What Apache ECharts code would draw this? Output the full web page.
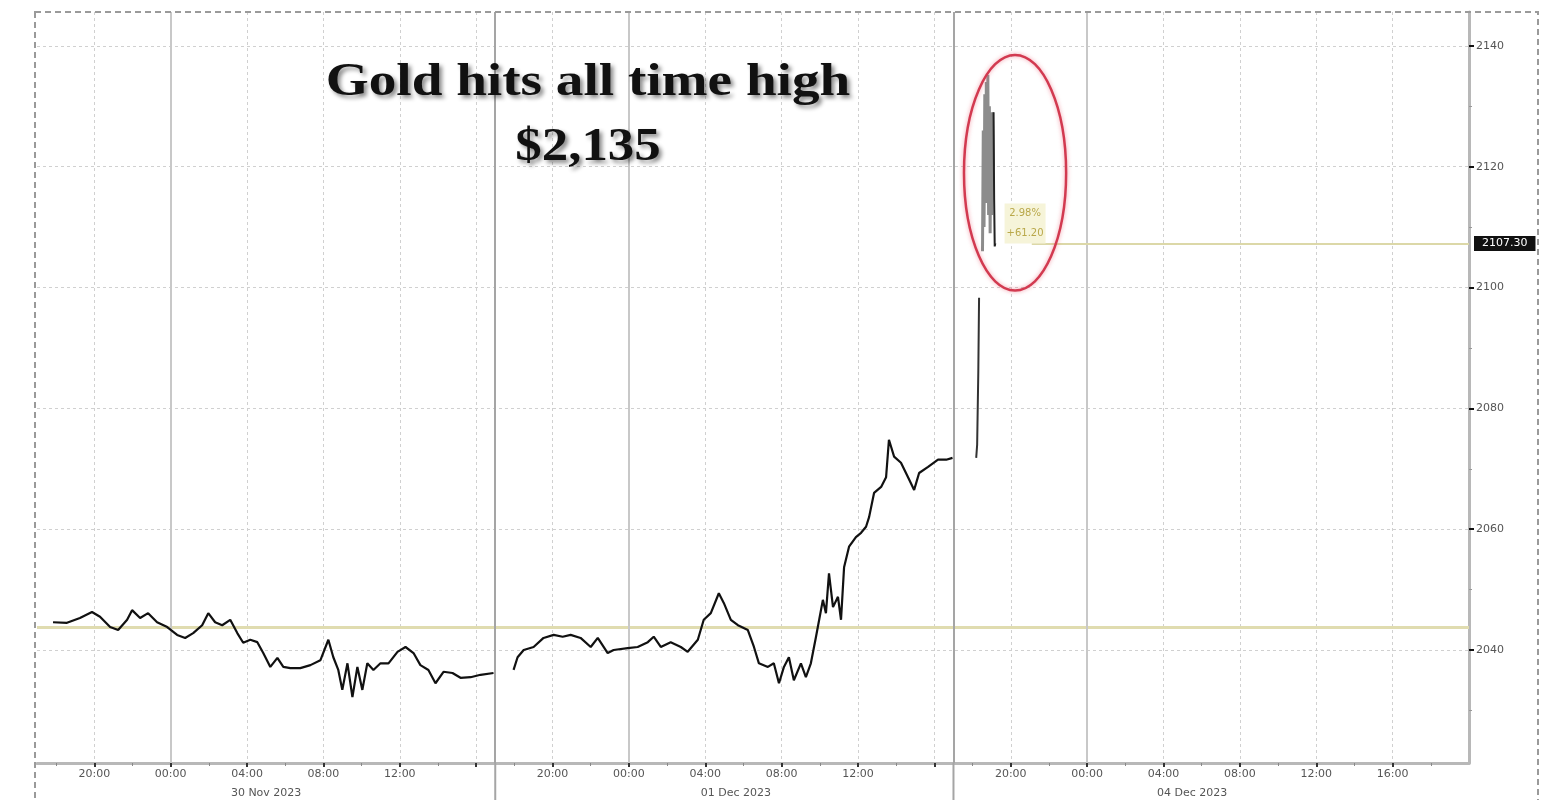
<!DOCTYPE html>
<html><head><meta charset="utf-8">
<script src="https://cdn.jsdelivr.net/npm/echarts@6/dist/echarts.min.js"></script>
<style>html,body{margin:0;padding:0;background:#fff}#c{width:1546px;height:800px}</style>
</head><body><div id="c"></div>
<script>
// ---- data (hours since 29 Nov 2023 17:00 trading-session time, gold spot USD) ----
const seg1Hours = [0.84,1.57,2.25,2.88,3.30,3.83,4.25,4.72,4.98,5.40,5.82,6.29,6.82,7.34,7.76,8.18,8.65,8.97,9.33,9.70,10.12,10.49,10.80,11.17,11.54,11.85,12.22,12.59,12.90,13.27,13.79,14.32,14.84,15.26,15.52,15.78,15.99,16.26,16.52,16.78,17.04,17.30,17.62,17.99,18.41,18.88,19.30,19.72,20.08,20.50,20.87,21.29,21.76,22.18,22.71,23.23,23.91];
const seg1Prices = [2044.6,2044.5,2045.3,2046.3,2045.5,2043.8,2043.3,2045.0,2046.6,2045.3,2046.1,2044.6,2043.8,2042.5,2042.0,2042.8,2044.1,2046.1,2044.6,2044.1,2045.0,2042.8,2041.2,2041.7,2041.3,2039.5,2037.2,2038.7,2037.2,2037.0,2037.0,2037.5,2038.3,2041.7,2038.8,2036.7,2033.4,2037.8,2032.2,2037.2,2033.4,2037.8,2036.7,2037.8,2037.8,2039.7,2040.5,2039.5,2037.5,2036.7,2034.5,2036.4,2036.2,2035.4,2035.5,2035.9,2036.2];
const seg2Hours = [24.96,25.17,25.49,26.01,26.53,27.06,27.53,27.95,28.47,29.00,29.37,29.89,30.20,30.94,31.46,31.99,32.30,32.67,33.19,33.72,34.08,34.61,34.92,35.29,35.71,35.97,36.34,36.71,37.23,37.55,37.81,38.28,38.59,38.86,39.12,39.38,39.64,40.01,40.27,40.53,40.80,41.16,41.32,41.48,41.69,41.95,42.11,42.27,42.53,42.89,43.16,43.42,43.58,43.84,44.21,44.47,44.62,44.89,45.25,45.62,45.94,46.20,46.67,47.19,47.62,47.95];
const seg2Prices = [2036.7,2038.8,2040.0,2040.5,2042.0,2042.5,2042.2,2042.5,2042.0,2040.5,2042.0,2039.5,2040.0,2040.3,2040.5,2041.3,2042.2,2040.5,2041.3,2040.5,2039.7,2041.7,2045.0,2046.1,2049.4,2047.8,2045.0,2044.1,2043.3,2040.5,2037.8,2037.2,2037.8,2034.5,2037.2,2038.8,2035.0,2037.8,2035.5,2037.8,2042.2,2048.3,2046.1,2052.7,2047.1,2048.8,2045.0,2053.7,2057.1,2058.7,2059.4,2060.4,2062.0,2066.0,2067.0,2068.6,2074.8,2072.0,2071.0,2068.6,2066.5,2069.3,2070.3,2071.5,2071.5,2071.8];
const spikeHours = [49.19,49.24,49.30,49.34];
const spikePrices = [2071.8,2074.0,2086.0,2098.3];
const peakHours = [49.52,49.56,49.60,49.64,49.68,49.72,49.76,49.80,49.84,49.88,49.92,49.96,50.00,50.04,50.08];
const peakPrices = [2106.0,2126.0,2110.0,2132.0,2114.0,2134.0,2118.0,2135.2,2112.0,2130.0,2109.0,2127.0,2112.0,2129.0,2120.0];
const closeHours = [50.10,50.13,50.16,50.19];
const closePrices = [2129.0,2114.5,2106.8,2107.3];

// ---- axes ----
const tickHours  = [3,7,11,15,19,23,27,31,35,39,43,47,51,55,59,63,67,71];
const tickLabels = ['20:00','00:00','04:00','08:00','12:00','','20:00','00:00','04:00','08:00','12:00','','20:00','00:00','04:00','08:00','12:00','16:00'];
const minorHours = [1,5,9,13,17,21,25,29,33,37,41,45,49,53,57,61,65,69,73];
const dateHours  = [12,36.6,60.5];
const dateLabels = ['30 Nov 2023','01 Dec 2023','04 Dec 2023'];
const yTicks = [2040,2060,2080,2100,2120,2140];
const yMinor = [2030,2050,2070,2090,2110,2130];
const dayHours = [7,31,55];
const sessionHours = [24,48];
const prevClose = 2043.8;
const lastPrice = 2107.3;
const lastLabel = '2107.30';
const changeText = ['2.98%','+61.20'];
const titleLines = ['Gold hits all time high','$2,135'];

const pairs = (h, p) => h.map((x, i) => [x, p[i]]);
const labelHours = tickHours.filter((h, i) => tickLabels[i] !== '');

const chart = echarts.init(document.getElementById('c'));
const lineBase = { type: 'line', showSymbol: false, symbol: 'none', silent: true, animation: false, xAxisIndex: 0, yAxisIndex: 0 };

const option = {
  backgroundColor: '#fff',
  animation: false,
  grid: { left: 37, right: 77, top: 12, bottom: 37 },
  xAxis: [
    { type: 'value', min: 0, max: 75, position: 'bottom',
      axisLine: { show: true, onZero: false, lineStyle: { color: '#b8b8b8', width: 3 } },
      axisTick: { show: true, customValues: tickHours, length: 4, inside: false, lineStyle: { color: '#333', width: 2 } },
      axisLabel: { customValues: labelHours, fontSize: 11, color: '#555', margin: 6, fontFamily: 'DejaVu Sans',
        formatter: v => tickLabels[tickHours.indexOf(Math.round(v))] },
      splitLine: { show: true, lineStyle: { color: '#d0d0d0', type: [3, 3], width: 1 } } },
    { type: 'value', min: 0, max: 75, position: 'bottom', offset: 19,
      axisLine: { show: false, onZero: false }, axisTick: { show: false }, splitLine: { show: false },
      axisLabel: { customValues: dateHours, fontSize: 11, color: '#555', margin: 6, fontFamily: 'DejaVu Sans',
        formatter: v => { let best = 0; dateHours.forEach((d, i) => { if (Math.abs(d - v) < Math.abs(dateHours[best] - v)) best = i; }); return dateLabels[best]; } } },
    { type: 'value', min: 0, max: 75, position: 'bottom',
      axisLine: { show: false, onZero: false }, splitLine: { show: false }, axisLabel: { show: false },
      axisTick: { show: true, customValues: minorHours, length: 3, lineStyle: { color: '#888', width: 1 } } }
  ],
  yAxis: [
    { type: 'value', min: 2021.3, max: 2145.6, position: 'right',
      axisLine: { show: true, onZero: false, lineStyle: { color: '#b8b8b8', width: 3 } },
      axisTick: { show: true, customValues: yTicks, length: 5, lineStyle: { color: '#111', width: 2 } },
      axisLabel: { customValues: yTicks, fontSize: 11, color: '#555', margin: 7, fontFamily: 'DejaVu Sans', formatter: v => String(v) },
      splitLine: { show: true, lineStyle: { color: '#d0d0d0', type: [3, 3], width: 1 } } },
    { type: 'value', min: 2021.3, max: 2145.6, position: 'right',
      axisLine: { show: false, onZero: false }, splitLine: { show: false }, axisLabel: { show: false },
      axisTick: { show: true, customValues: yMinor, length: 3, lineStyle: { color: '#999', width: 1 } } }
  ],
  series: [
    Object.assign({}, lineBase, { name: 'seg1', data: pairs(seg1Hours, seg1Prices), lineStyle: { color: '#111', width: 2.2 }, z: 5,
      markLine: { silent: true, symbol: 'none', animation: false, label: { show: false },
        data: [
          { yAxis: prevClose, lineStyle: { color: '#e0dcb0', width: 3, type: 'solid' } },
          ...dayHours.map(h => ({ xAxis: h, lineStyle: { color: '#c8c8c8', width: 2, type: 'solid' } })),
          ...sessionHours.map(h => ({ xAxis: h, lineStyle: { color: '#a5a5a5', width: 2, type: 'solid' } })),
          [ { coord: [52.1, lastPrice], lineStyle: { color: '#dcd8a8', width: 2, type: 'solid' } },
            { coord: [75, lastPrice], label: { show: true, position: 'end', formatter: lastLabel, distance: 5,
                backgroundColor: '#111', color: '#fff', fontSize: 11, padding: [2, 8], fontFamily: 'DejaVu Sans' } } ]
        ] } }),
    Object.assign({}, lineBase, { name: 'seg2', data: pairs(seg2Hours, seg2Prices), lineStyle: { color: '#111', width: 2.2 }, z: 5 }),
    Object.assign({}, lineBase, { name: 'spike', data: pairs(spikeHours, spikePrices), lineStyle: { color: '#333', width: 2 }, z: 5 }),
    Object.assign({}, lineBase, { name: 'peak', data: pairs(peakHours, peakPrices), lineStyle: { color: '#8c8c8c', width: 3 }, z: 5,
      markPoint: { silent: true, animation: false, symbol: 'rect', symbolSize: 1, itemStyle: { color: 'rgba(0,0,0,0)' },
        data: [ { coord: [51.75, 2110.6], label: { show: true, position: 'inside', formatter: changeText.join('\n'),
          color: '#b9a84a', backgroundColor: '#f6f4d9', fontSize: 10, lineHeight: 20, padding: [0, 2], fontFamily: 'DejaVu Sans' } } ] } }),
    Object.assign({}, lineBase, { name: 'close', data: pairs(closeHours, closePrices), lineStyle: { color: '#222', width: 2 }, z: 6 })
  ]
};
chart.setOption(option);

// annotation ellipse, title and frame
const ellH = [48.55, 53.9], ellP = [2099.5, 2138.5];
const p1 = chart.convertToPixel({ xAxisIndex: 0, yAxisIndex: 0 }, [ellH[0], ellP[0]]);
const p2 = chart.convertToPixel({ xAxisIndex: 0, yAxisIndex: 0 }, [ellH[1], ellP[1]]);
const sess = sessionHours.map(h => chart.convertToPixel({ xAxisIndex: 0 }, h));
const titleStyle = (text) => ({ text, fill: '#111', font: 'bold 46px "Liberation Serif"', align: 'center', verticalAlign: 'top',
  textShadowColor: 'rgba(0,0,0,0.45)', textShadowBlur: 4, textShadowOffsetX: 3, textShadowOffsetY: 3 });
chart.setOption({
  graphic: [
    { type: 'text', silent: true, z: 90, x: 588, y: 60, scaleX: 1.2, style: titleStyle(titleLines[0]) },
    { type: 'text', silent: true, z: 90, x: 588, y: 125, scaleX: 1.15, style: titleStyle(titleLines[1]) },
    { type: 'ellipse', silent: true, z: 100,
      shape: { cx: (p1[0] + p2[0]) / 2, cy: (p1[1] + p2[1]) / 2, rx: Math.abs(p2[0] - p1[0]) / 2, ry: Math.abs(p2[1] - p1[1]) / 2 },
      style: { fill: 'none', stroke: '#d23a50', lineWidth: 2.5, shadowBlur: 4, shadowColor: 'rgba(235,90,110,0.6)' } },
    { type: 'rect', silent: true, z: 100, shape: { x: 35, y: 12, width: 1503, height: 800 },
      style: { fill: 'none', stroke: '#9a9a9a', lineWidth: 2, lineDash: [6, 4] } },
    ...sess.map(x => ({ type: 'line', silent: true, z: 50, shape: { x1: x, y1: 763, x2: x, y2: 800 },
      style: { stroke: '#a5a5a5', lineWidth: 2 } }))
  ]
});
</script>
</body></html>
